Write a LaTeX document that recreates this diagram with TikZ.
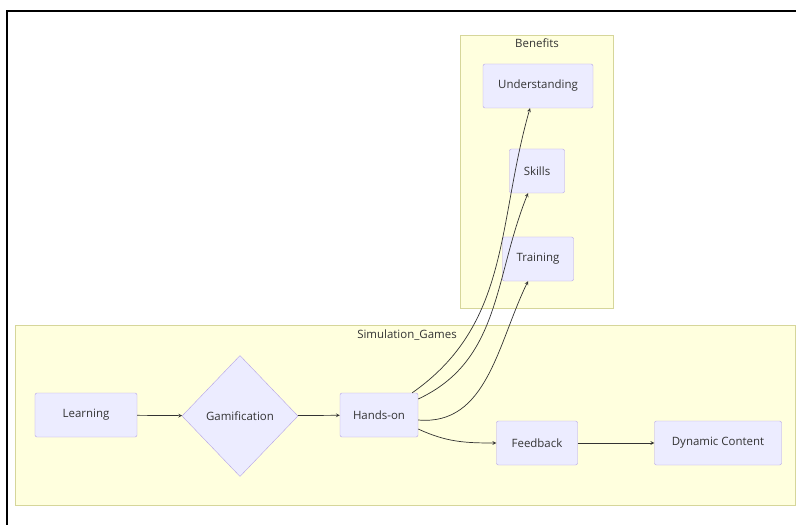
\documentclass[tikz,border=0pt]{standalone}
\usepackage{fontspec}
\setmainfont{Open Sans}
\usetikzlibrary{shapes.geometric, arrows}

\definecolor{nodefill}{HTML}{ECECFF}
\definecolor{nodeline}{HTML}{B5A3E6}
\definecolor{groupfill}{HTML}{FFFFDE}
\definecolor{groupline}{HTML}{D6D69A}
\definecolor{ink}{HTML}{333333}

\tikzset{
  box/.style={draw=nodeline, fill=nodefill, rounded corners=2bp, minimum height=44bp,
    inner sep=0pt, text=ink, font=\fontsize{11.5}{13}\selectfont},
  gate/.style={box, shape=diamond, rounded corners=0pt, minimum width=116bp, minimum height=121bp},
  group/.style={draw=groupline, fill=groupfill, line width=0.8bp},
  grouptitle/.style={anchor=north, text=ink, inner sep=2bp, font=\fontsize{11.5}{13}\selectfont},
  link/.style={->, >=stealth, draw=ink, line width=0.7bp}
}

\begin{document}
\begin{tikzpicture}[x=1bp, y=-1bp]
	\useasboundingbox (0,0) rectangle (796,525);
	% frame
	\draw[line width=2bp] (7,525) -- (7,11) -- (796,11);

	% groups
	\draw[group] (460,35) rectangle (613,308);
	\node (benefits) [grouptitle] at (537,37) {Benefits};
	\draw[group] (15,325) rectangle (795,505);
	\node (simgames) [grouptitle] at (407,328) {Simulation\_Games};

	% nodes
	\node (under)  [box, minimum width=110bp] at (538,86)  {Understanding};
	\node (skills) [box, minimum width=55bp]  at (537,171) {Skills};
	\node (train)  [box, minimum width=71bp]  at (538,259) {Training};
	\node (learn)  [box, minimum width=102bp] at (86,415)  {Learning};
	\node (gamif)  [gate]                     at (240,416) {Gamification};
	\node (hands)  [box, minimum width=78bp]  at (379,415) {Hands-on};
	\node (feed)   [box, minimum width=81bp]  at (537,443) {Feedback};
	\node (dyn)    [box, minimum width=127bp] at (718,443) {Dynamic Content};

	% links
	\draw[link] (learn) -- (gamif);
	\draw[link] (gamif) -- (hands);
	\draw[link] (hands.north east) ++(-6,0) to[out=35, in=-106] ([xshift=-8bp]under.south);
	\draw[link] (hands.east) ++(0,-16) to[out=25, in=-112] ([xshift=-9bp]skills.south);
	\draw[link] (hands.east) ++(0,5) to[out=-5, in=-116] ([xshift=-10bp]train.south);
	\draw[link] (hands.east) ++(0,14) to[out=-25, in=180] (feed.west);
	\draw[link] (feed) -- (dyn);
\end{tikzpicture}
\end{document}
